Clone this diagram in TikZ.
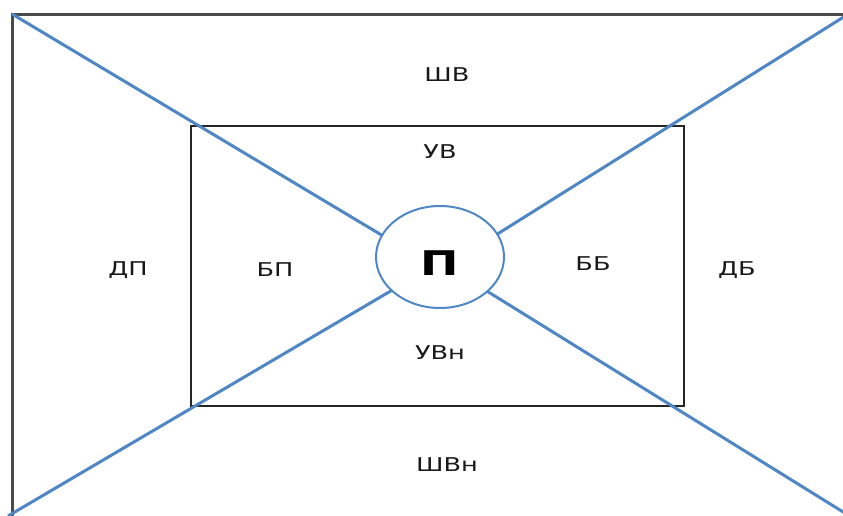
\documentclass[tikz,border=0pt]{standalone}
\usepackage{fontspec}
\setmainfont{DejaVu Sans}
\usetikzlibrary{shapes.geometric}
\newcommand\widetxt[1]{\scalebox{1.35}[1]{#1}}
\definecolor{lineblue}{HTML}{4F86C6}
\definecolor{framegray}{HTML}{4A4A4A}
\begin{document}
\begin{tikzpicture}[x=1pt,y=-1pt,
  frame/.style={draw=framegray,line width=3pt},
  inner/.style={draw=black!85,line width=2.4pt},
  diag/.style={draw=lineblue,line width=3pt},
  lab/.style={font=\fontsize{19}{22}\selectfont,text=black!90,inner sep=0pt},
  centre/.style={ellipse,draw=lineblue,line width=2pt,fill=white,minimum width=128pt,minimum height=102pt,inner sep=0pt}
]
\useasboundingbox (0,0) rectangle (843,515);
\clip (0,0) rectangle (843,515);
\fill[white] (0,0) rectangle (843,515);
% outer frame
\draw[frame] (12,530) -- (12,14) -- (860,14);
% inner rectangle
\draw[inner] (191,126) rectangle (684,406);
% corner coordinates
\coordinate (tl) at (12,14);
\coordinate (tr) at (850,13);
\coordinate (bl) at (8,516);
\coordinate (br) at (848,515);
\coordinate (m1) at (440,270);
\coordinate (m2) at (440,262);
\draw[diag] (tl) -- (m1);
\draw[diag] (tr) -- (m1);
\draw[diag] (bl) -- (m2);
\draw[diag] (br) -- (m2);
% centre
\node[centre] (P) at (440,257) {};
\node[font=\fontsize{34}{40}\selectfont\bfseries,inner sep=0pt] (Pt) at (440,263) {\widetxt{П}};
% labels
\node[lab] (shv) at (447,75) {\widetxt{ШВ}};
\node[lab] (uv) at (440,152) {\widetxt{УВ}};
\node[lab] (dp) at (128,270) {\widetxt{ДП}};
\node[lab] (bp) at (275,270) {\widetxt{БП}};
\node[lab] (bb) at (593,264) {\widetxt{ББ}};
\node[lab] (db) at (737,270) {\widetxt{ДБ}};
\node[lab] (uvn) at (440,353) {\widetxt{УВн}};
\node[lab] (shvn) at (447,465) {\widetxt{ШВн}};
\end{tikzpicture}
\end{document}
